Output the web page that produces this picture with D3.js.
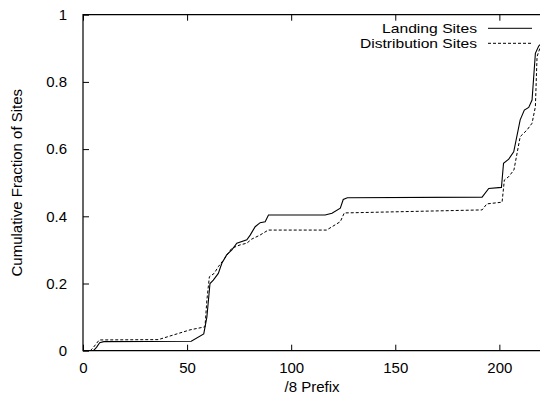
<!DOCTYPE html>
<html>
<head>
<meta charset="utf-8">
<script src="https://cdn.jsdelivr.net/npm/d3@7"></script>
<style>
  html, body { margin: 0; padding: 0; background: #fff; }
  svg { display: block; font-family: "Liberation Sans", Arial, sans-serif; }
</style>
</head>
<body>
<div id="chart"></div>
<script>
// /8 prefix vs cumulative fraction
const landingPrefix = [5, 6.5, 8, 10, 52, 58, 59.5, 61, 62.6, 65, 66.7, 69, 71.5, 73.9, 78.7, 80.3, 82.7, 85.1, 87.5, 89.1, 116.3, 119.6, 123.6, 125, 127, 191.7, 194.9, 201, 202, 204.5, 206.9, 210, 212, 214.1, 215.7, 217.3, 218.9, 221];
const landingFrac = [0, 0.01, 0.024, 0.027, 0.028, 0.05, 0.1, 0.2, 0.21, 0.23, 0.26, 0.285, 0.3, 0.32, 0.33, 0.344, 0.369, 0.381, 0.384, 0.404, 0.404, 0.409, 0.424, 0.45, 0.455, 0.457, 0.483, 0.486, 0.558, 0.57, 0.592, 0.687, 0.716, 0.724, 0.746, 0.885, 0.907, 0.92];

const distPrefix = [3.5, 5, 7.8, 36.2, 51.4, 58.6, 59.5, 60.7, 63, 65, 67.5, 71.5, 75.5, 78.7, 81, 85, 89, 117, 123.6, 125.5, 191.7, 194, 201.3, 202.4, 204.5, 207, 210, 213.3, 215.7, 217.3, 218.1, 219.7, 221];
const distFrac = [0, 0.01, 0.032, 0.033, 0.062, 0.071, 0.15, 0.22, 0.23, 0.25, 0.27, 0.305, 0.315, 0.32, 0.332, 0.344, 0.359, 0.359, 0.384, 0.41, 0.419, 0.437, 0.442, 0.508, 0.518, 0.538, 0.637, 0.657, 0.677, 0.726, 0.875, 0.905, 0.92];

const xTicks = [0, 50, 100, 150, 200];
const yTicks = [0, 0.2, 0.4, 0.6, 0.8, 1];
const seriesNames = ['Landing Sites', 'Distribution Sites'];

const width = 540, height = 398;
const margin = { top: 14.7, right: -1, bottom: 47.3, left: 83 };

const svg = d3.select('#chart').append('svg')
  .attr('width', width)
  .attr('height', height)
  .attr('viewBox', [0, 0, width, height]);

const x = d3.scaleLinear().domain([0, 220]).range([margin.left, width - margin.right]);
const y = d3.scaleLinear().domain([0, 1]).range([height - margin.bottom, margin.top]);

const tickLen = 6;
const fs = 15;

// bottom axis, inward ticks
svg.append('g')
  .attr('transform', `translate(0,${y(0)})`)
  .call(d3.axisBottom(x).tickValues(xTicks).tickSize(-tickLen).tickPadding(12).tickFormat(d3.format('d')))
  .call(g => g.select('.domain').remove())
  .call(g => g.selectAll('.tick line').attr('stroke', '#000'))
  .call(g => g.selectAll('.tick text').attr('font-size', fs).attr('font-family', 'Liberation Sans, Arial, sans-serif').attr('fill', '#000'));

// top mirror ticks
svg.append('g')
  .attr('transform', `translate(0,${y(1)})`)
  .call(d3.axisTop(x).tickValues(xTicks).tickSize(-tickLen).tickFormat(''))
  .call(g => g.select('.domain').remove())
  .call(g => g.selectAll('.tick line').attr('stroke', '#000'));

// left axis
svg.append('g')
  .attr('transform', `translate(${x(0)},0)`)
  .call(d3.axisLeft(y).tickValues(yTicks).tickSize(-tickLen).tickPadding(16).tickFormat(d => d3.format('')(+d.toFixed(1))))
  .call(g => g.select('.domain').remove())
  .call(g => g.selectAll('.tick line').attr('stroke', '#000'))
  .call(g => g.selectAll('.tick text').attr('font-size', fs).attr('font-family', 'Liberation Sans, Arial, sans-serif').attr('fill', '#000'));

// border: left, top, bottom
svg.append('path')
  .attr('fill', 'none')
  .attr('stroke', '#000')
  .attr('stroke-width', 1.2)
  .attr('d', `M${x.range()[1]},${y(1)}H${x(0)}V${y(0)}H${x.range()[1]}`);

svg.append('defs').append('clipPath').attr('id', 'clip')
  .append('rect')
  .attr('x', x(0)).attr('y', y(1))
  .attr('width', x.range()[1] - x(0)).attr('height', y(0) - y(1));

const line = d3.line().x(d => x(d[0])).y(d => y(d[1]));

const landing = d3.zip(landingPrefix, landingFrac);
const dist = d3.zip(distPrefix, distFrac);

const plot = svg.append('g').attr('clip-path', 'url(#clip)');
plot.append('path').datum(dist)
  .attr('fill', 'none').attr('stroke', '#000').attr('stroke-width', 1)
  .attr('stroke-dasharray', '3,2').attr('d', line);
plot.append('path').datum(landing)
  .attr('fill', 'none').attr('stroke', '#000').attr('stroke-width', 1.1)
  .attr('d', line);

// legend (stretched a bit horizontally like the reference)
const legendWidths = [95, 117];
const legend = svg.append('g').attr('font-size', 13);
seriesNames.forEach((name, i) => {
  const ly = 28.3 + i * 15;
  legend.append('text')
    .attr('x', 477).attr('y', ly).attr('dy', '0.36em')
    .attr('text-anchor', 'end').attr('fill', '#000')
    .attr('textLength', legendWidths[i])
    .attr('lengthAdjust', 'spacingAndGlyphs')
    .text(name);
  legend.append('line')
    .attr('x1', 488).attr('x2', 532).attr('y1', ly).attr('y2', ly)
    .attr('stroke', '#000').attr('stroke-width', 1)
    .attr('stroke-dasharray', i === 1 ? '3,2' : null);
});

// axis titles
svg.append('text')
  .attr('x', (x(0) + x.range()[1]) / 2).attr('y', 392)
  .attr('text-anchor', 'middle').attr('font-size', fs).attr('fill', '#000')
  .text('/8 Prefix');

svg.append('text')
  .attr('transform', `translate(22,${(y(0) + y(1)) / 2}) rotate(-90)`)
  .attr('text-anchor', 'middle').attr('font-size', fs).attr('fill', '#000')
  .text('Cumulative Fraction of Sites');
</script>
</body>
</html>
